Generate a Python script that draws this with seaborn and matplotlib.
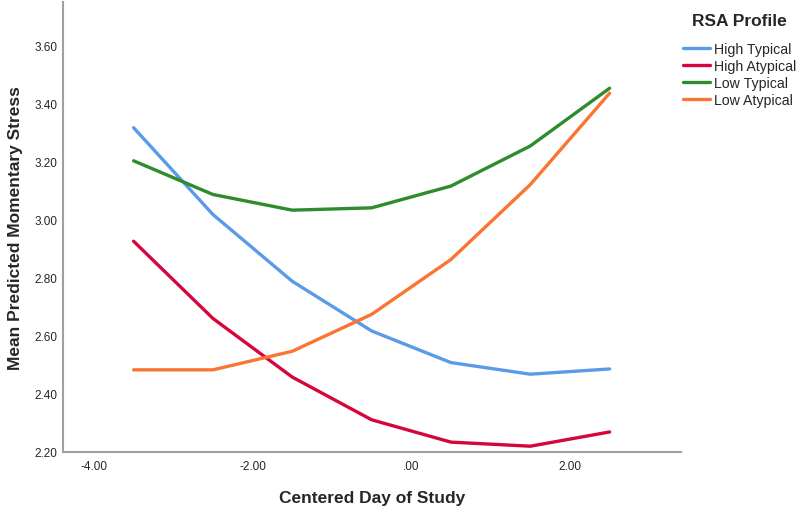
import matplotlib
matplotlib.use("Agg")
import matplotlib.pyplot as plt
import seaborn as sns
import pandas as pd

days = [-3.5, -2.5, -1.5, -0.5, 0.5, 1.5, 2.5]
high_typical = [3.317, 3.018, 2.788, 2.617, 2.508, 2.468, 2.486]
high_atypical = [2.926, 2.660, 2.458, 2.311, 2.234, 2.220, 2.269]
low_typical = [3.203, 3.087, 3.033, 3.041, 3.116, 3.254, 3.453]
low_atypical = [2.483, 2.483, 2.547, 2.674, 2.863, 3.121, 3.436]
profiles = ["High Typical", "High Atypical", "Low Typical", "Low Atypical"]
colors = ["#5a9be8", "#d4063c", "#2e8b2e", "#fa7532"]
xticks = [-4, -2, 0, 2]
xticklabels = ["-4.00", "-2.00", ".00", "2.00"]
yticks = [2.2, 2.4, 2.6, 2.8, 3.0, 3.2, 3.4, 3.6]
yticklabels = ["2.20", "2.40", "2.60", "2.80", "3.00", "3.20", "3.40", "3.60"]

rows = []
for name, vals in zip(profiles, [high_typical, high_atypical, low_typical, low_atypical]):
    for d, v in zip(days, vals):
        rows.append({"day": d, "stress": v, "profile": name})
df = pd.DataFrame(rows)

sns.set_style("white")
plt.rcParams["font.family"] = ["Liberation Sans", "DejaVu Sans"]

fig = plt.figure(figsize=(8, 5.1), dpi=100)
ax = fig.add_axes([63/800, 1 - 453/510, (681 - 63)/800, (453 - 3)/510])
sns.lineplot(data=df, x="day", y="stress", hue="profile", hue_order=profiles,
             palette=colors, linewidth=2.4, ax=ax, legend=True)

ax.set_xlim(-4.39, 3.40)
ax.set_ylim(2.2, 3.75)
ax.set_xticks(xticks)
ax.set_xticklabels(xticklabels, fontsize=8.5)
ax.set_yticks(yticks)
ax.set_yticklabels(yticklabels, fontsize=8.5)
ax.tick_params(axis="x", length=0, pad=6)
ax.tick_params(axis="y", length=0, pad=4)
for s in ["top", "right"]:
    ax.spines[s].set_visible(False)
for s in ["left", "bottom"]:
    ax.spines[s].set_color("#a0a0a0")
    ax.spines[s].set_linewidth(1.5)
ax.set_xlabel("Centered Day of Study", fontsize=12.5, fontweight="bold", labelpad=13)
ax.set_ylabel("Mean Predicted Momentary Stress", fontsize=12.5, fontweight="bold", labelpad=8)

handles, labels = ax.get_legend_handles_labels()
ax.get_legend().remove()
leg = fig.legend(handles, labels, title="RSA Profile", loc="upper left",
                 bbox_to_anchor=(683/800, 1 - 14/510), frameon=False,
                 fontsize=10.2, title_fontproperties={"weight": "bold", "size": 12.5},
                 handlelength=1.9, handletextpad=0.3, labelspacing=0.22,
                 borderpad=0, borderaxespad=0)
leg._legend_box.sep = 10
fig.savefig("out.png", dpi=100)
